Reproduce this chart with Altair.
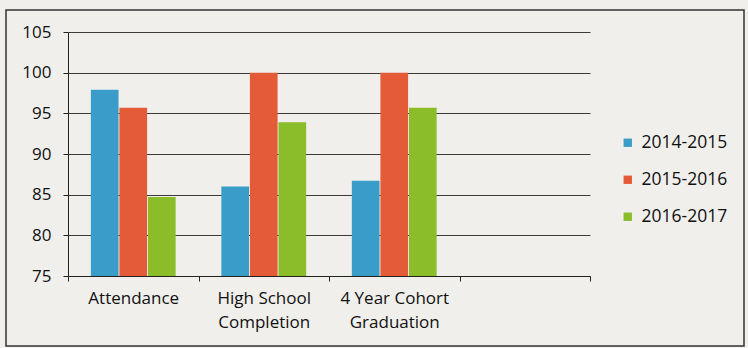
import altair as alt
import pandas as pd

categories = ["Attendance", "High School|Completion", "4 Year Cohort|Graduation"]
axis_domain = categories + [""]
series = ["2014-2015", "2015-2016", "2016-2017"]
values_2014 = [97.9, 86.0, 86.7]
values_2015 = [95.7, 100.0, 100.0]
values_2016 = [84.7, 93.9, 95.7]
colors = ["#3a9cc8", "#e45c37", "#8bbd2a"]
y_ticks = [75, 80, 85, 90, 95, 100, 105]

rows = []
for s, vals in zip(series, [values_2014, values_2015, values_2016]):
    for c, v in zip(categories, vals):
        rows.append({"category": c, "series": s, "value": v})
df = pd.DataFrame(rows)

FONT = "Open Sans"

bars = alt.Chart(df).mark_bar(clip=True).encode(
    x=alt.X("category:N", sort=axis_domain,
            scale=alt.Scale(domain=axis_domain, paddingInner=0, paddingOuter=0),
            axis=alt.Axis(title=None, labelAngle=0, tickBand="extent",
                          labelExpr="split(datum.label, '|')",
                          labelLineHeight=24, labelPadding=9, tickSize=5,
                          labelBaseline="top", grid=False,
                          domainColor="#222222", tickColor="#222222")),
    xOffset=alt.XOffset("series:N", sort=series,
                        scale=alt.Scale(paddingOuter=0.8, paddingInner=0.03)),
    y=alt.Y("value:Q", scale=alt.Scale(domain=[75, 105], nice=False, zero=False),
            axis=alt.Axis(title=None, values=y_ticks, tickSize=5, labelPadding=12,
                          gridColor="#3a3a3a", gridWidth=1.2, domainColor="#222222",
                          tickColor="#222222")),
    color=alt.Color("series:N", sort=series,
                    scale=alt.Scale(domain=series, range=colors),
                    legend=alt.Legend(title=None, orient="none", legendX=551, legendY=102,
                                      symbolType="square", symbolSize=70,
                                      symbolStrokeWidth=0, labelOffset=5,
                                      rowPadding=18, labelFontSize=17.5)),
)

frame = alt.Chart(alt.Data(values=[{}])).mark_rect(
    fill=None, stroke="#333333", strokeWidth=1.5, clip=False
).encode(
    x=alt.value(-62), x2=alt.value(676), y=alt.value(-22), y2=alt.value(314)
)

chart = alt.layer(frame, bars).properties(
    width=522, height=244,
    padding={"left": 68, "top": 32, "right": 158, "bottom": 72},
    autosize="none",
    background="#f0efec",
).configure_view(stroke=None).configure_axis(
    labelFont=FONT, labelFontSize=17, labelColor="#111111"
).configure_legend(
    labelFont=FONT, labelColor="#111111"
)

chart.save("out.html", embed_options={"renderer": "svg", "actions": False})
